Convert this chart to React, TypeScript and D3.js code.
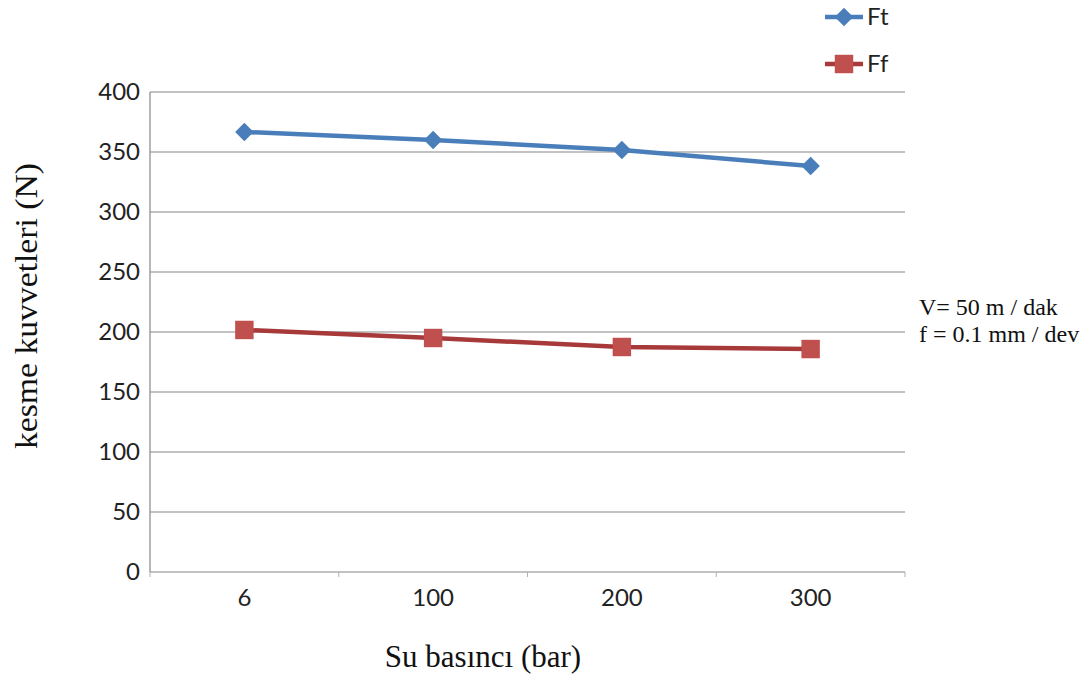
import { useEffect, useRef } from "react";
import * as d3 from "d3";

const categories = ["6", "100", "200", "300"];
const ftValues = [366.7, 360, 351.7, 338.3];
const ffValues = [201.7, 195, 187.5, 185.8];
const yTicks = [0, 50, 100, 150, 200, 250, 300, 350, 400];

const W = 1092;
const H = 680;
const M = { left: 150, right: 905, top: 92, bottom: 572 };

export default function App() {
  const svgRef = useRef<SVGSVGElement>(null);

  useEffect(() => {
    if (!svgRef.current) return;
    const svg = d3.select(svgRef.current);
    svg.selectAll("*").remove();

    const x = d3.scaleBand<string>().domain(categories).range([M.left, M.right]);
    const y = d3.scaleLinear().domain([0, 400]).range([M.bottom, M.top]);
    const cx = (c: string) => (x(c) ?? 0) + x.bandwidth() / 2;
    const sans = "Lato, 'Open Sans', sans-serif";
    const serif = "'Liberation Serif', 'DejaVu Serif', serif";

    // gridlines
    svg.append("g")
      .selectAll("line")
      .data(yTicks.filter((t) => t > 0))
      .join("line")
      .attr("x1", M.left).attr("x2", M.right)
      .attr("y1", (d) => y(d)).attr("y2", (d) => y(d))
      .attr("stroke", "#868686").attr("stroke-width", 1.2);

    // axes lines
    svg.append("line")
      .attr("x1", M.left).attr("x2", M.left).attr("y1", M.top).attr("y2", M.bottom)
      .attr("stroke", "#868686").attr("stroke-width", 1.2);
    svg.append("line")
      .attr("x1", M.left).attr("x2", M.right).attr("y1", M.bottom).attr("y2", M.bottom)
      .attr("stroke", "#868686").attr("stroke-width", 1.2);

    // x tick marks at band edges
    const edges = categories.map((c) => x(c) ?? 0).concat([M.right]);
    svg.append("g")
      .selectAll("line")
      .data(edges)
      .join("line")
      .attr("x1", (d) => d).attr("x2", (d) => d)
      .attr("y1", M.bottom).attr("y2", M.bottom + 5)
      .attr("stroke", "#b0b0b0");

    // y tick labels
    svg.append("g")
      .selectAll("text")
      .data(yTicks)
      .join("text")
      .attr("x", 140)
      .attr("y", (d) => y(d))
      .attr("dy", "0.35em")
      .attr("text-anchor", "end")
      .attr("font-family", sans)
      .attr("font-size", 24)
      .attr("fill", "#222")
      .text((d) => d);

    // x tick labels
    svg.append("g")
      .selectAll("text")
      .data(categories)
      .join("text")
      .attr("x", (d) => cx(d))
      .attr("y", 606)
      .attr("text-anchor", "middle")
      .attr("font-family", sans)
      .attr("font-size", 24)
      .attr("fill", "#222")
      .text((d) => d);

    const line = d3.line<number>()
      .x((_, i) => cx(categories[i]))
      .y((d) => y(d));

    const series = [
      { name: "Ft", values: ftValues, stroke: "#4a7ebb", fill: "#4a7ebb", rot: 45, size: 170, ly: 17 },
      { name: "Ff", values: ffValues, stroke: "#a8393a", fill: "#c0504d", rot: 0, size: 340, ly: 64 },
    ];
    const marker = d3.symbol().type(d3.symbolSquare);

    series.forEach((s) => {
      svg.append("path")
        .attr("d", line(s.values))
        .attr("fill", "none")
        .attr("stroke", s.stroke)
        .attr("stroke-width", 4.5);
      svg.append("g")
        .selectAll("path")
        .data(s.values)
        .join("path")
        .attr("transform", (d, i) => `translate(${cx(categories[i])},${y(d)}) rotate(${s.rot})`)
        .attr("d", marker.size(s.size)())
        .attr("fill", s.fill);

      // legend
      svg.append("line")
        .attr("x1", 825).attr("x2", 863).attr("y1", s.ly).attr("y2", s.ly)
        .attr("stroke", s.stroke).attr("stroke-width", 4.5);
      svg.append("path")
        .attr("transform", `translate(844,${s.ly}) rotate(${s.rot})`)
        .attr("d", marker.size(s.size)())
        .attr("fill", s.fill);
      svg.append("text")
        .attr("x", 867).attr("y", s.ly)
        .attr("dy", "0.35em")
        .attr("font-family", sans)
        .attr("font-size", 24)
        .attr("fill", "#222")
        .text(s.name);
    });

    // annotations
    const ann = ["V= 50 m / dak", "f = 0.1 mm / dev"];
    svg.append("g")
      .selectAll("text")
      .data(ann)
      .join("text")
      .attr("x", 919)
      .attr("y", (_, i) => 315 + i * 27)
      .attr("font-family", serif)
      .attr("font-size", 24)
      .attr("fill", "#111")
      .text((d) => d);

    // axis titles
    svg.append("text")
      .attr("transform", `translate(37,306) rotate(-90)`)
      .attr("text-anchor", "middle")
      .attr("font-family", serif)
      .attr("font-size", 31)
      .attr("textLength", 286)
      .attr("lengthAdjust", "spacingAndGlyphs")
      .attr("fill", "#111")
      .text("kesme kuvvetleri (N)");
    svg.append("text")
      .attr("x", 483).attr("y", 667)
      .attr("text-anchor", "middle")
      .attr("font-family", serif)
      .attr("font-size", 31)
      .attr("fill", "#111")
      .text("Su basıncı (bar)");
  }, []);

  return (
    <div style={{ position: "absolute", left: 0, top: 0, width: W, height: H, background: "#fff" }}>
      <svg ref={svgRef} width={W} height={H} />
    </div>
  );
}
